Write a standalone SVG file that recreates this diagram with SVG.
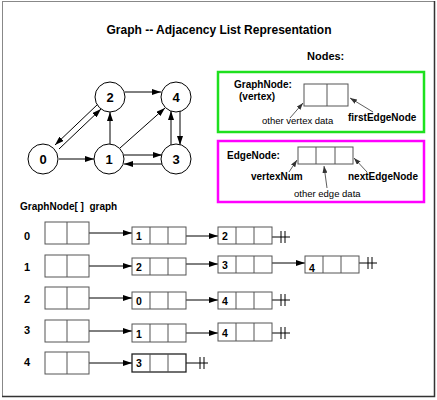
<svg xmlns="http://www.w3.org/2000/svg" width="437" height="400" viewBox="0 0 437 400">
<defs>
<marker id="ah" markerUnits="userSpaceOnUse" markerWidth="9" markerHeight="6" refX="9" refY="3" orient="auto"><path d="M0,0 L9,3 L0,6 z" fill="#000"/></marker>
<marker id="as" markerUnits="userSpaceOnUse" markerWidth="7" markerHeight="5" refX="7" refY="2.5" orient="auto"><path d="M0,0 L7,2.5 L0,5 z" fill="#333"/></marker>
</defs>
<style>
text{font-family:"Liberation Sans",Arial,Helvetica,sans-serif;fill:#000}
.b{font-weight:bold}
.t{font-size:12px;font-weight:bold}
.n{font-size:13px;font-weight:bold;text-anchor:middle}
.l{font-size:10px;font-weight:bold}
.s{font-size:9.5px}
.r{font-size:11px;font-weight:bold}
.d{font-size:10.5px;font-weight:bold}
circle{fill:#fff;stroke:#000;stroke-width:1}
.e{stroke:#000;stroke-width:1;fill:none;marker-end:url(#ah)}
.p{stroke:#333;stroke-width:0.8;fill:none;marker-end:url(#as)}
.bx{fill:#fff;stroke:#555;stroke-width:1}
.dv{stroke:#555;stroke-width:1}
.nl{stroke:#000;stroke-width:1;fill:none}
</style>
<rect x="0" y="0" width="437" height="400" fill="#fff"/>
<rect x="2.5" y="1.5" width="432" height="395" fill="none" stroke="#888" stroke-width="1"/>
<path d="M434.5,1 V396.5 H2" fill="none" stroke="#333" stroke-width="1.5"/>
<text class="t" x="219" y="34" text-anchor="middle">Graph -- Adjacency List Representation</text>

<g id="connectors">
<line class="e" x1="59" y1="159" x2="94" y2="159"/>
<line class="e" x1="125" y1="92" x2="161" y2="92"/>
<line class="e" x1="110" y1="144" x2="110" y2="112"/>
<line class="e" x1="120" y1="148" x2="165" y2="108"/>
<line class="e" x1="124" y1="155" x2="162" y2="155"/>
<line class="e" x1="162" y1="164" x2="124" y2="164"/>
<line class="e" x1="180" y1="111" x2="180" y2="145"/>
<line class="e" x1="171" y1="145" x2="171" y2="111"/>
<line class="e" x1="98" y1="104" x2="55" y2="145"/>
<line class="e" x1="59" y1="149" x2="101" y2="109"/>

<line class="p" x1="290" y1="118" x2="303" y2="103"/>
<line class="p" x1="373" y1="112" x2="350" y2="98"/>
<line class="p" x1="289" y1="172" x2="297" y2="160"/>
<line class="p" x1="367" y1="172" x2="354" y2="158"/>
<line class="p" x1="327" y1="188" x2="324" y2="166"/>

<line class="e" x1="80" y1="233" x2="132" y2="233"/>
<line class="e" x1="177" y1="236" x2="218" y2="236"/>
<line class="e" x1="80" y1="266" x2="132" y2="266"/>
<line class="e" x1="177" y1="264" x2="218" y2="264"/>
<line class="e" x1="263" y1="263" x2="305" y2="263"/>
<line class="e" x1="80" y1="298" x2="132" y2="298"/>
<line class="e" x1="177" y1="300" x2="218" y2="300"/>
<line class="e" x1="80" y1="331" x2="132" y2="331"/>
<line class="e" x1="177" y1="333" x2="218" y2="333"/>
<line class="e" x1="80" y1="363" x2="132" y2="363"/>

<path class="nl" d="M263,237 H290 M281,231 V243 M285,231 V243"/>
<path class="nl" d="M350,263 H377 M368,257 V269 M372,257 V269"/>
<path class="nl" d="M263,300 H290 M281,294 V306 M285,294 V306"/>
<path class="nl" d="M263,333 H290 M281,327 V339 M285,327 V339"/>
<path class="nl" d="M178,363 H208 M200,357 V369 M204,357 V369"/>
</g>

<g id="v0"><circle cx="43" cy="159" r="15"/><text class="n" x="43" y="164">0</text></g>
<g id="v1"><circle cx="109" cy="159" r="15"/><text class="n" x="109" y="164">1</text></g>
<g id="v2"><circle cx="110" cy="97" r="15"/><text class="n" x="110" y="102">2</text></g>
<g id="v3"><circle cx="176" cy="159" r="15"/><text class="n" x="176" y="164">3</text></g>
<g id="v4"><circle cx="176" cy="97" r="15"/><text class="n" x="176" y="102">4</text></g>

<text class="r" x="307" y="60">Nodes:</text>

<g id="graphnode-legend">
<rect x="218" y="72" width="206" height="60" fill="none" stroke="#1ee01e" stroke-width="2.5"/>
<text class="l" x="234" y="88">GraphNode:</text>
<text class="l" x="239" y="100">(vertex)</text>
<rect class="bx" x="304" y="84" width="44" height="22"/>
<line class="dv" x1="327" y1="84" x2="327" y2="106"/>
<text class="s" x="262" y="124">other vertex data</text>
<text class="l" x="348" y="121">firstEdgeNode</text>
</g>

<g id="edgenode-legend">
<rect x="218" y="141" width="206" height="61" fill="none" stroke="#f0f" stroke-width="2.5"/>
<text class="l" x="227" y="159">EdgeNode:</text>
<rect class="bx" x="298" y="147" width="55" height="17"/>
<line class="dv" x1="316" y1="147" x2="316" y2="164"/>
<line class="dv" x1="335" y1="147" x2="335" y2="164"/>
<text class="l" x="251" y="180">vertexNum</text>
<text class="l" x="348" y="180">nextEdgeNode</text>
<text class="s" x="294" y="197">other edge data</text>
</g>

<text class="l" x="20" y="210" xml:space="preserve">GraphNode[ ]  graph</text>

<g id="row0">
<text class="r" x="24" y="240">0</text>
<rect class="bx" x="45" y="222" width="44" height="22"/><line class="dv" x1="67" y1="222" x2="67" y2="244"/>
<rect class="bx" x="132" y="227" width="54" height="17"/><line class="dv" x1="150" y1="227" x2="150" y2="244"/><line class="dv" x1="168" y1="227" x2="168" y2="244"/>
<text class="d" x="136" y="240">1</text>
<rect class="bx" x="218" y="227" width="54" height="17"/><line class="dv" x1="236" y1="227" x2="236" y2="244"/><line class="dv" x1="254" y1="227" x2="254" y2="244"/>
<text class="d" x="222" y="240">2</text>
</g>

<g id="row1">
<text class="r" x="24" y="271">1</text>
<rect class="bx" x="45" y="255" width="44" height="22"/><line class="dv" x1="67" y1="255" x2="67" y2="277"/>
<rect class="bx" x="132" y="258" width="54" height="17"/><line class="dv" x1="150" y1="258" x2="150" y2="275"/><line class="dv" x1="168" y1="258" x2="168" y2="275"/>
<text class="d" x="136" y="271">2</text>
<rect class="bx" x="218" y="256" width="54" height="17"/><line class="dv" x1="236" y1="256" x2="236" y2="273"/><line class="dv" x1="254" y1="256" x2="254" y2="273"/>
<text class="d" x="222" y="269">3</text>
<rect class="bx" x="305" y="256" width="54" height="17"/><line class="dv" x1="323" y1="256" x2="323" y2="273"/><line class="dv" x1="341" y1="256" x2="341" y2="273"/>
<text class="d" x="309" y="272">4</text>
</g>

<g id="row2">
<text class="r" x="24" y="303">2</text>
<rect class="bx" x="45" y="287" width="44" height="22"/><line class="dv" x1="67" y1="287" x2="67" y2="309"/>
<rect class="bx" x="132" y="292" width="54" height="17"/><line class="dv" x1="150" y1="292" x2="150" y2="309"/><line class="dv" x1="168" y1="292" x2="168" y2="309"/>
<text class="d" x="136" y="305">0</text>
<rect class="bx" x="218" y="292" width="54" height="17"/><line class="dv" x1="236" y1="292" x2="236" y2="309"/><line class="dv" x1="254" y1="292" x2="254" y2="309"/>
<text class="d" x="222" y="305">4</text>
</g>

<g id="row3">
<text class="r" x="24" y="334">3</text>
<rect class="bx" x="45" y="320" width="44" height="22"/><line class="dv" x1="67" y1="320" x2="67" y2="342"/>
<rect class="bx" x="132" y="324" width="54" height="18"/><line class="dv" x1="150" y1="324" x2="150" y2="342"/><line class="dv" x1="168" y1="324" x2="168" y2="342"/>
<text class="d" x="136" y="338">1</text>
<rect class="bx" x="218" y="323" width="54" height="18"/><line class="dv" x1="236" y1="323" x2="236" y2="341"/><line class="dv" x1="254" y1="323" x2="254" y2="341"/>
<text class="d" x="222" y="337">4</text>
</g>

<g id="row4">
<text class="r" x="24" y="366">4</text>
<rect class="bx" x="45" y="352" width="44" height="22"/><line class="dv" x1="67" y1="352" x2="67" y2="374"/>
<rect class="bx" x="132" y="354" width="54" height="18" style="stroke:#222;stroke-width:1.3"/><line class="dv" x1="150" y1="354" x2="150" y2="372"/><line class="dv" x1="168" y1="354" x2="168" y2="372"/>
<text class="d" x="136" y="367">3</text>
</g>
</svg>
